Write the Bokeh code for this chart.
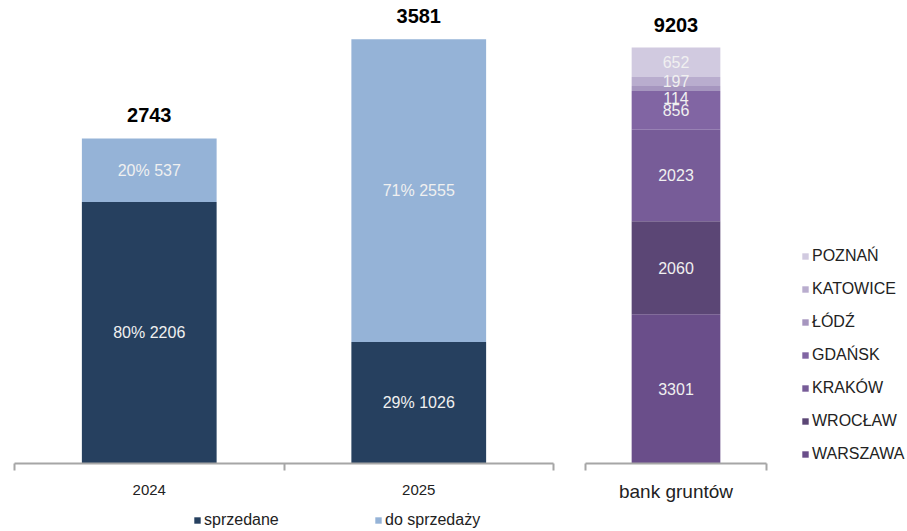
from bokeh.plotting import figure
from bokeh.models import (ColumnDataSource, Range1d, LinearAxis, FixedTicker, Legend, LegendItem)
from bokeh.layouts import row, column
from bokeh.core.properties import value
from bokeh.embed import file_html
from bokeh.resources import INLINE

# ---------------- data ----------------
years = ["2024", "2025"]
sprzedane = [2206, 1026]
do_sprzedazy = [537, 2555]
series_names = ["sprzedane", "do sprzedaży"]

land_category = ["bank gruntów"]
cities = ["WARSZAWA", "WROCŁAW", "KRAKÓW", "GDAŃSK", "ŁÓDŹ", "KATOWICE", "POZNAŃ"]
land_values = [3301, 2060, 2023, 856, 114, 197, 652]

# ---------------- styles ----------------
FONT = "Liberation Sans"
AXIS_COLOR = "#A6A6A6"
left_colors = ["#26405F", "#95B3D7"]
city_colors = ["#6A4E8A", "#5B4675", "#775C98", "#8165A3", "#A696BF", "#B9ADCE", "#D1CAE0"]
label_color = "#F0F0F0"


def add_category_axes(p, cats, label_size, standoff):
    n = len(cats)
    edge = LinearAxis(ticker=FixedTicker(ticks=list(range(n + 1))), bounds=(0, n),
                      major_label_text_font_size="1px", major_label_text_alpha=0,
                      major_label_standoff=0,
                      major_tick_out=7, major_tick_in=0, minor_tick_line_color=None,
                      axis_line_color=AXIS_COLOR, axis_line_width=2,
                      major_tick_line_color=AXIS_COLOR, major_tick_line_width=2)
    p.add_layout(edge, "below")
    centers = [i + 0.5 for i in range(n)]
    lab = LinearAxis(ticker=FixedTicker(ticks=centers),
                     major_label_overrides={c: t for c, t in zip(centers, cats)},
                     axis_line_color=None, major_tick_line_color=None, minor_tick_line_color=None,
                     major_label_text_font=FONT, major_label_text_font_size=label_size,
                     major_label_text_color="#222222", major_label_standoff=standoff)
    p.add_layout(lab, "below")


# ---------------- left panel ----------------
totals = [a + b for a, b in zip(sprzedane, do_sprzedazy)]
xpos = [i + 0.5 for i in range(len(years))]
src = ColumnDataSource(dict(x=xpos, s=sprzedane, d=do_sprzedazy))

left = figure(width=570, height=510, x_range=Range1d(0, len(years)), y_range=Range1d(0, 3907),
              output_backend="svg", toolbar_location=None, x_axis_location=None,
              y_axis_location=None, min_border_left=14, min_border_right=17,
              min_border_top=0, min_border_bottom=47)
left.outline_line_color = None
left.xgrid.visible = False
left.ygrid.visible = False

rs = left.vbar_stack(["s", "d"], x="x", width=0.5, color=left_colors, line_color=None, source=src)

lx, ly, lt = [], [], []
for i in range(len(years)):
    tot = totals[i]
    lx += [xpos[i], xpos[i]]
    ly += [sprzedane[i] / 2, sprzedane[i] + do_sprzedazy[i] / 2]
    lt += [f"{round(sprzedane[i] / tot * 100)}% {sprzedane[i]}",
           f"{round(do_sprzedazy[i] / tot * 100)}% {do_sprzedazy[i]}"]
left.text(x=lx, y=ly, text=lt, text_align="center", text_baseline="middle",
          text_color=label_color, text_font=value(FONT), text_font_size="16px")
left.text(x=xpos, y=totals, text=[str(t) for t in totals], text_align="center",
          text_baseline="middle", y_offset=-23, text_color="#000000",
          text_font=value(FONT), text_font_size="20px", text_font_style="bold")

add_category_axes(left, years, "15px", 8)

# ---------------- legend strip for the left panel ----------------
legfig = figure(width=907, height=21, x_range=Range1d(-10, -9), y_range=Range1d(-10, -9),
                output_backend="svg", toolbar_location=None, x_axis_location=None,
                y_axis_location=None, min_border_left=14, min_border_right=0,
                min_border_top=0, min_border_bottom=0)
legfig.outline_line_color = None
legfig.xgrid.visible = False
legfig.ygrid.visible = False
lrs = legfig.vbar_stack(["s", "d"], x="x", width=0.5, color=left_colors, line_color=None, source=src)
leg = Legend(items=[LegendItem(label=n, renderers=[r]) for n, r in zip(series_names, lrs)],
             orientation="horizontal", location=(179, 2), glyph_width=8, glyph_height=8,
             label_standoff=3, label_width=168, spacing=2, padding=0, margin=0,
             border_line_color=None, background_fill_alpha=0, label_text_font=FONT,
             label_text_font_size="16px", label_text_color="#222222", label_height=18)
legfig.add_layout(leg, "center")

# ---------------- right panel ----------------
rx = [i + 0.5 for i in range(len(land_category))]
rsrc = ColumnDataSource(dict(x=rx, **{c: [v] for c, v in zip(cities, land_values)}))
right = figure(width=337, height=510, x_range=Range1d(0, 1.779), y_range=Range1d(0, 10243),
               output_backend="svg", toolbar_location=None, x_axis_location=None,
               y_axis_location=None, min_border_left=15, min_border_right=0,
               min_border_top=0, min_border_bottom=47)
right.outline_line_color = None
right.xgrid.visible = False
right.ygrid.visible = False

rr = right.vbar_stack(cities, x="x", width=0.49, color=city_colors, line_color=None, source=rsrc)

cum = 0
cx, cy, ct = [], [], []
for v in land_values:
    cx.append(rx[0])
    cy.append(cum + v / 2)
    ct.append(str(v))
    cum += v
label_offsets = [0, 0, 0, 0, 10, 0, 0]
right.text(x=cx, y=cy, text=ct, y_offset=label_offsets, text_align="center", text_baseline="middle",
           text_color=label_color, text_font=value(FONT), text_font_size="16px")
right.text(x=rx, y=[cum], text=[str(cum)], text_align="center", text_baseline="middle",
           y_offset=-23, text_color="#000000", text_font=value(FONT), text_font_size="20px",
           text_font_style="bold")

add_category_axes(right, land_category, "19px", 4)

rleg = Legend(items=[LegendItem(label=c, renderers=[r]) for c, r in reversed(list(zip(cities, rr)))],
              location=(216, 0), glyph_width=8, glyph_height=8, label_standoff=3, spacing=15,
              padding=0, margin=0, border_line_color=None, background_fill_alpha=0,
              label_text_font=FONT, label_text_font_size="16px", label_text_color="#222222",
              label_height=16)
right.add_layout(rleg, "center")

layout = column(row(left, right), legfig)
open("out.html", "w").write(file_html(layout, INLINE))
